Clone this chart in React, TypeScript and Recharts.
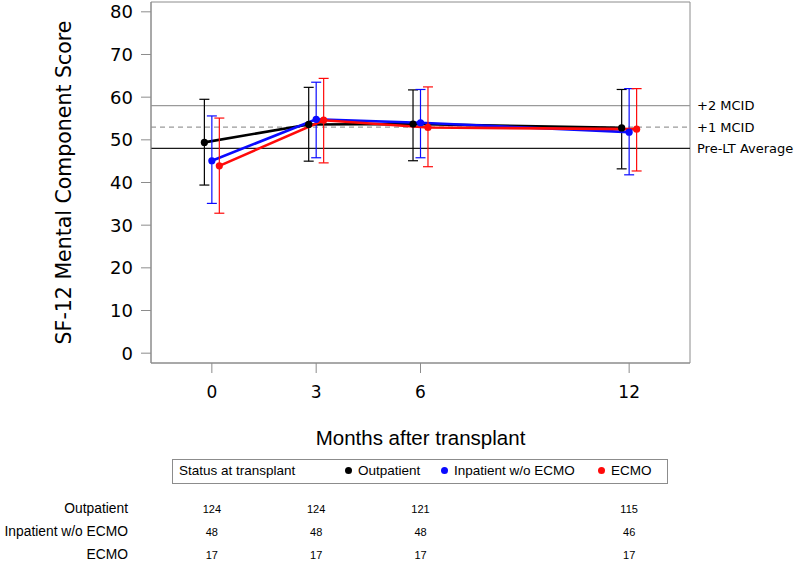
import { ComposedChart, Line, XAxis, YAxis, ErrorBar, ReferenceLine, ReferenceArea } from 'recharts';

// months after transplant and group means with 95% CI bounds
const MONTHS = [0, 3, 6, 12];
const Y_TICKS = [0, 10, 20, 30, 40, 50, 60, 70, 80];

const OUT_MEAN = [49.4, 53.6, 53.7, 52.8];
const OUT_LO = [39.4, 45.0, 45.1, 43.2];
const OUT_HI = [59.5, 62.3, 61.7, 61.8];

const INP_MEAN = [45.1, 54.8, 54.0, 51.8];
const INP_LO = [35.1, 45.8, 45.8, 41.8];
const INP_HI = [55.6, 63.5, 61.8, 62.0];

const ECMO_MEAN = [43.9, 54.6, 52.9, 52.5];
const ECMO_LO = [32.8, 44.6, 43.7, 42.7];
const ECMO_HI = [55.1, 64.4, 62.4, 62.0];

// patients at risk
const ROW_LABELS = ['Outpatient', 'Inpatient w/o ECMO', 'ECMO'];
const N_OUT = [124, 124, 121, 115];
const N_INP = [48, 48, 48, 46];
const N_ECMO = [17, 17, 17, 17];

const REF_LINES = [
  { y: 58, label: '+2 MCID', stroke: '#9a9a9a', dash: undefined },
  { y: 53, label: '+1 MCID', stroke: '#9a9a9a', dash: '5 4' },
  { y: 48, label: 'Pre-LT Average', stroke: '#1a1a1a', dash: undefined },
];

const X_DOMAIN: [number, number] = [-1.75, 13.75];
const Y_DOMAIN: [number, number] = [-2.3, 82.3];
const PLOT_LEFT = 151;
const PLOT_RIGHT = 690;
const PLOT_TOP = 2;
const PLOT_BOTTOM = 363;
const W = 800;
const H = 565;
const AXIS_GRAY = '#8c8c8c';
const NUM_FONT = '"DejaVu Sans", Verdana, sans-serif';
const TXT_FONT = '"Liberation Sans", Arial, sans-serif';

const build = (mean: number[], lo: number[], hi: number[], shift: number) =>
  MONTHS.map((m, i) => ({ x: m + shift, y: mean[i], err: [mean[i] - lo[i], hi[i] - mean[i]] }));

const SERIES = [
  { name: 'Outpatient', color: '#000000', data: build(OUT_MEAN, OUT_LO, OUT_HI, -0.215) },
  { name: 'Inpatient w/o ECMO', color: '#0a0aff', data: build(INP_MEAN, INP_LO, INP_HI, 0) },
  { name: 'ECMO', color: '#ff0a0a', data: build(ECMO_MEAN, ECMO_LO, ECMO_HI, 0.215) },
];

const COUNTS = [N_OUT, N_INP, N_ECMO];

// same mapping the x axis uses, for the at-risk table columns
const monthToPx = (m: number) =>
  PLOT_LEFT + ((m - X_DOMAIN[0]) / (X_DOMAIN[1] - X_DOMAIN[0])) * (PLOT_RIGHT - PLOT_LEFT);

const YLabel = ({ viewBox }: any) => {
  const cx = viewBox.x + 64;
  const cy = viewBox.y + viewBox.height / 2;
  return (
    <text x={cx} y={cy} transform={`rotate(-90 ${cx} ${cy})`} textAnchor="middle" dominantBaseline="central"
      fontSize={20.5} fontFamily={NUM_FONT} fill="#000">
      SF-12 Mental Component Score
    </text>
  );
};

const XLabel = ({ viewBox }: any) => (
  <text x={viewBox.x + viewBox.width / 2} y={viewBox.y + 82} textAnchor="middle"
    fontSize={20.5} fontFamily={TXT_FONT} fill="#000">
    Months after transplant
  </text>
);

export default function App() {
  const XAXIS_H = 60;
  return (
    <div style={{ position: 'absolute', left: 0, top: 0, width: W, height: H, background: '#fff' }}>
      <ComposedChart width={W} height={H}
        margin={{ top: PLOT_TOP, right: W - PLOT_RIGHT, bottom: H - PLOT_BOTTOM - XAXIS_H, left: 0 }}>
        <XAxis dataKey="x" type="number" domain={X_DOMAIN} ticks={MONTHS} height={XAXIS_H}
          allowDataOverflow interval={0} tickSize={10} tickMargin={13}
          axisLine={{ stroke: AXIS_GRAY }} tickLine={{ stroke: AXIS_GRAY }}
          tick={{ fontSize: 17, fill: '#000', fontFamily: NUM_FONT }} label={<XLabel />} />
        <YAxis type="number" domain={Y_DOMAIN} ticks={Y_TICKS} width={PLOT_LEFT} allowDataOverflow
          tickSize={10} tickMargin={8} axisLine={{ stroke: AXIS_GRAY }} tickLine={{ stroke: AXIS_GRAY }}
          tick={{ fontSize: 18, fill: '#000', fontFamily: NUM_FONT }} label={<YLabel />} />
        {/* plot frame */}
        <ReferenceArea x1={X_DOMAIN[0]} x2={X_DOMAIN[1]} y1={Y_DOMAIN[0]} y2={Y_DOMAIN[1]}
          fill="none" fillOpacity={0} stroke={AXIS_GRAY} strokeWidth={1} ifOverflow="visible" />
        {REF_LINES.map((r) => (
          <ReferenceLine key={r.label} y={r.y} stroke={r.stroke} strokeWidth={1.3} strokeDasharray={r.dash}
            label={{ value: r.label, position: 'right', fill: '#000', fontSize: 13, fontFamily: NUM_FONT, offset: 7 }} />
        ))}
        {SERIES.map((s) => (
          <Line key={s.name} data={s.data} dataKey="y" name={s.name} type="linear" stroke={s.color}
            strokeWidth={2.6} isAnimationActive={false}
            dot={{ r: 3.6, fill: s.color, stroke: s.color, strokeWidth: 0 }} activeDot={false}>
            <ErrorBar dataKey="err" direction="y" width={5} stroke={s.color} strokeWidth={1.2} isAnimationActive={false} />
          </Line>
        ))}
      </ComposedChart>

      {/* legend */}
      <div style={{ position: 'absolute', left: 172, top: 459, width: 494, height: 23, border: `1px solid ${AXIS_GRAY}`,
        fontFamily: TXT_FONT, fontSize: 13.5, color: '#000' }}>
        <span style={{ position: 'absolute', left: 6, top: 3 }}>Status at transplant</span>
        {SERIES.map((s, i) => {
          const lefts = [172, 268, 425];
          return (
            <span key={s.name} style={{ position: 'absolute', left: lefts[i], top: 3, whiteSpace: 'nowrap' }}>
              <span style={{ display: 'inline-block', width: 7, height: 7, borderRadius: '50%', background: s.color,
                marginRight: 6, verticalAlign: 'middle', position: 'relative', top: -1 }} />
              {s.name}
            </span>
          );
        })}
      </div>

      {/* at-risk table */}
      {ROW_LABELS.map((lab, r) => {
        const cy = 510 + r * 23;
        return (
          <div key={lab}>
            <div style={{ position: 'absolute', right: W - 128, top: cy - 9, fontFamily: TXT_FONT, fontSize: 13.8,
              whiteSpace: 'nowrap', color: '#000' }}>{lab}</div>
            {COUNTS[r].map((n, i) => (
              <div key={i} style={{ position: 'absolute', left: monthToPx(MONTHS[i]) - 20, width: 40, top: cy - 7,
                textAlign: 'center', fontFamily: TXT_FONT, fontSize: 11, color: '#000' }}>{n}</div>
            ))}
          </div>
        );
      })}
    </div>
  );
}
